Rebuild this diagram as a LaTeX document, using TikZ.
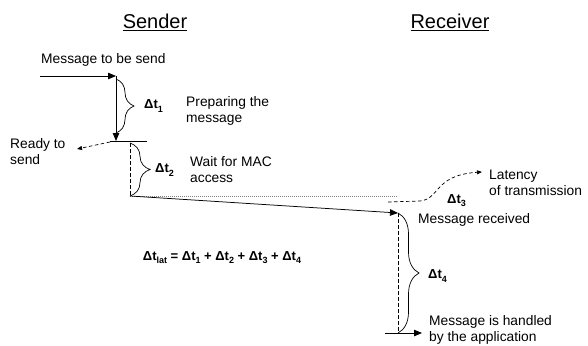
\documentclass[tikz,border=0pt]{standalone}
\usepackage{fontspec}
\setmainfont{Liberation Sans}
\usetikzlibrary{arrows.meta,decorations.pathreplacing}

% subscript of a time interval label
\newcommand\dtsub[1]{\raisebox{-0.45ex}{\fontsize{9}{9}\selectfont\bfseries #1}}
\newcommand\dtlabel[1]{\textbf{Δt}\dtsub{#1}}

\tikzset{
  txt/.style={font=\fontsize{13.8}{16}\selectfont, inner sep=0pt, align=left},
  title/.style={font=\fontsize{20}{24}\selectfont, inner sep=0pt},
  lbl/.style={font=\fontsize{13}{15}\selectfont\bfseries, inner sep=0pt},
  line/.style={line width=0.75pt, black},
  solidarrow/.style={line, -{Triangle[length=8pt,width=6.5pt]}},
  dasharrow/.style={line width=0.7pt, dash pattern=on 3.5pt off 2.5pt, -{Triangle[length=5pt,width=4pt]}},
  guide/.style={line width=0.7pt, dash pattern=on 3.5pt off 2.5pt},
  faint/.style={line width=0.9pt, gray, dash pattern=on 1.2pt off 0.8pt},
  bracedeco/.style={line width=0.7pt, decorate, decoration={brace, amplitude=#1, aspect=0.5}},
}

\begin{document}
\begin{tikzpicture}[x=1pt,y=-1pt]
\useasboundingbox[fill=white] (0,0) rectangle (588,345);

% titles
\node[title] (sender) at (155,22) {\underline{Sender}};
\node[title] (receiver) at (450,22) {\underline{Receiver}};

% time points
\coordinate (in)   at (40,76);
\coordinate (s0)   at (116,76);
\coordinate (s1)   at (116,141);
\coordinate (b1t)  at (116,79);
\coordinate (b1b)  at (116,133);
\coordinate (s1l)  at (110,141);
\coordinate (s1r)  at (147,141);
\coordinate (rdy)  at (77,149);
\coordinate (s2t)  at (130,143);
\coordinate (s2)   at (130,196);
\coordinate (ref)  at (398,196);
\coordinate (r0)   at (398,213);
\coordinate (r1)   at (398,333);
\coordinate (r1l)  at (385,333);
\coordinate (out)  at (422,333);
\coordinate (lat0) at (388,202);
\coordinate (lat1) at (420,201);
\coordinate (lat2) at (482,172);

% texts
\node[txt, anchor=west] (msgsend) at (41,60) {Message to be send};
\node[txt, anchor=west] (prep) at (186,111) {Preparing the\\message};
\node[txt, anchor=west] (ready) at (10,152) {Ready to\\send};
\node[txt, anchor=west] (wait) at (190,170) {Wait for MAC\\access};
\node[txt, anchor=west] (latency) at (489,183) {Latency\\of transmission};
\node[txt, anchor=west] (recv) at (418,220) {Message received};
\node[txt, anchor=west] (handled) at (429,330) {Message is handled\\by the application};

% interval labels
\node[lbl, anchor=west] (dt1) at (144,106) {\dtlabel{1}};
\node[lbl, anchor=west] (dt2) at (155,170) {\dtlabel{2}};
\node[lbl, anchor=west] (dt3) at (447,201) {\dtlabel{3}};
\node[lbl, anchor=west] (dt4) at (428,276) {\dtlabel{4}};
\node[lbl] (formula) at (222,258) {Δt\dtsub{lat} = Δt\dtsub{1} + Δt\dtsub{2} + Δt\dtsub{3} + Δt\dtsub{4}};

% sender side
\draw[solidarrow] (in) -- (s0);
\draw[solidarrow] (s0) -- (s1);
\draw[line] (s1l) -- (s1r);
\draw[bracedeco=18] (b1t) -- (b1b);
\draw[dasharrow] ([yshift=-1pt]s1l) -- (rdy);
\draw[guide] (s2t) -- (s2);
\draw[bracedeco=20] (s2t) -- (s2);

% transmission
\draw[faint] (s2) -- (ref);
\draw[solidarrow] (s2) -- (r0);
\draw[dasharrow] (lat0) -- (lat1) .. controls (440,199) and (434,175) .. (lat2);

% receiver side
\draw[guide] (r0) -- (r1);
\draw[bracedeco=21] (r0) -- (r1);
\draw[solidarrow] (r1l) -- (out);
\end{tikzpicture}
\end{document}
